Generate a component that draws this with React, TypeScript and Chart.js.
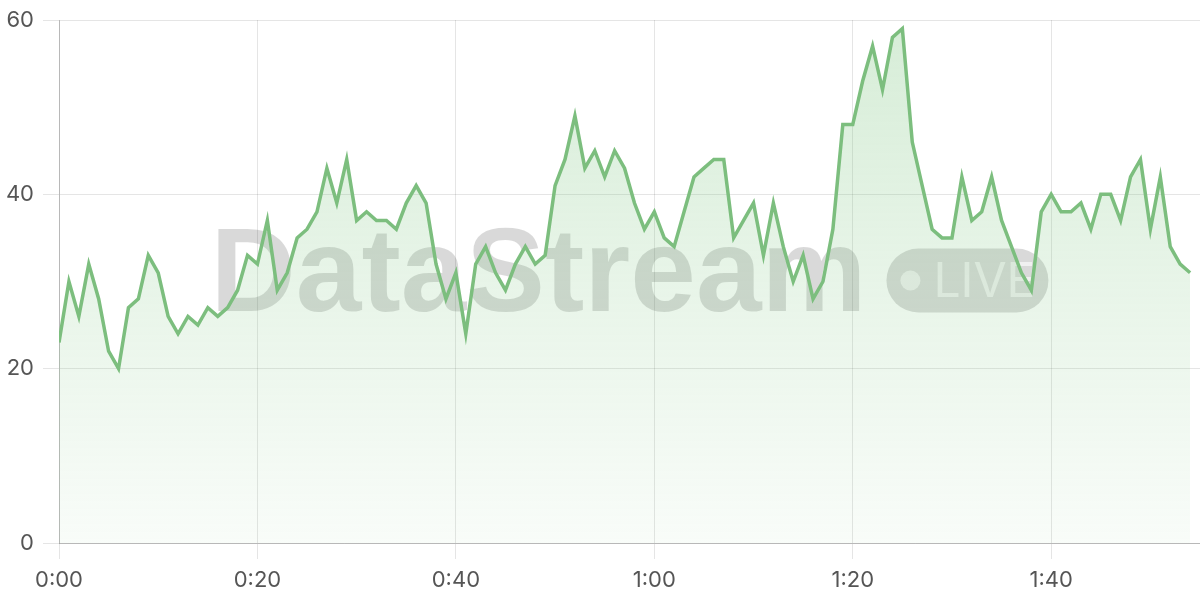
import React, { useEffect, useRef } from "react";
import { Chart, registerables } from "chart.js";

Chart.register(...registerables);

// Values sampled once per second (index = seconds since start)
const values: number[] = [
  23, 30, 26, 32, 28, 22, 20, 27, 28, 33,
  31, 26, 24, 26, 25, 27, 26, 27, 29, 33,
  32, 37, 29, 31, 35, 36, 38, 43, 39, 44,
  37, 38, 37, 37, 36, 39, 41, 39, 32, 28,
  31, 24, 32, 34, 31, 29, 32, 34, 32, 33,
  41, 44, 49, 43, 45, 42, 45, 43, 39, 36,
  38, 35, 34, 38, 42, 43, 44, 44, 35, 37,
  39, 33, 39, 34, 30, 33, 28, 30, 36, 48,
  48, 53, 57, 52, 58, 59, 46, 41, 36, 35,
  35, 42, 37, 38, 42, 37, 34, 31, 29, 38,
  40, 38, 38, 39, 36, 40, 40, 37, 42, 44,
  36, 42, 34, 32, 31,
];
const seconds: number[] = values.map((_, i) => i);
const xMax = 115;
const xStep = 20;
const yTicks: number[] = [0, 20, 40, 60];
const watermarkTitle = "DataStream";
const watermarkBadge = "LIVE";

const LINE = "rgb(124,190,126)";
const FONT = "Inter, 'Noto Sans', sans-serif";

const fmt = (v: number) => `${Math.floor(v / 60)}:${String(v % 60).padStart(2, "0")}`;

const watermarkPlugin = {
  id: "watermark",
  beforeDatasetsDraw(chart: any) {
    const { ctx, chartArea } = chart;
    const cx = (chartArea.left + chartArea.right) / 2;
    const cy = (chartArea.top + chartArea.bottom) / 2;
    ctx.save();
    ctx.font = `bold 118px 'Liberation Sans', Arial, sans-serif`;
    const tw = ctx.measureText(watermarkTitle).width;
    const pillW = 162;
    const pillH = 64;
    const gap = 20;
    const total = tw + gap + pillW;
    const x0 = cx - total / 2;
    const baseline = cy + 29;
    ctx.fillStyle = "rgba(0,0,0,0.15)";
    ctx.textBaseline = "alphabetic";
    ctx.textAlign = "left";
    ctx.fillText(watermarkTitle, x0, baseline);
    const px = x0 + tw + gap;
    const py = baseline + 2 - pillH;
    ctx.beginPath();
    ctx.roundRect(px, py, pillW, pillH, pillH / 2);
    ctx.fill();
    ctx.fillStyle = "rgba(255,255,255,0.6)";
    ctx.beginPath();
    ctx.arc(px + 24, py + pillH / 2, 10, 0, Math.PI * 2);
    ctx.fill();
    ctx.font = `48px ${FONT}`;
    ctx.textBaseline = "middle";
    ctx.fillText(watermarkBadge, px + 47, py + pillH / 2 + 2);
    ctx.restore();
  },
};

export default function App() {
  const ref = useRef<HTMLCanvasElement | null>(null);
  useEffect(() => {
    if (!ref.current) return;
    const chart = new Chart(ref.current, {
      type: "line",
      data: {
        labels: seconds,
        datasets: [
          {
            data: values,
            borderColor: LINE,
            borderWidth: 3.5,
            pointRadius: 0,
            tension: 0,
            fill: "origin",
            backgroundColor: (c: any) => {
              const area = c.chart.chartArea;
              if (!area) return "rgba(129,199,132,0.2)";
              const g = c.chart.ctx.createLinearGradient(0, area.top, 0, area.bottom);
              g.addColorStop(0, "rgba(129,199,132,0.32)");
              g.addColorStop(1, "rgba(129,199,132,0.05)");
              return g;
            },
          },
        ],
      },
      options: {
        animation: false,
        responsive: true,
        maintainAspectRatio: false,
        layout: { padding: { top: 20, left: 0, right: 0, bottom: 0 } },
        plugins: { legend: { display: false }, tooltip: { enabled: false } },
        scales: {
          x: {
            type: "linear",
            min: 0,
            max: xMax,
            afterFit: (s: any) => {
              s.height = 57;
              s.paddingLeft = 0;
              s.paddingRight = 0;
            },
            grid: { color: "rgba(0,0,0,0.1)", tickLength: 16 },
            border: { color: "rgba(0,0,0,0.2)" },
            ticks: {
              stepSize: xStep,
              includeBounds: false,
              padding: 8,
              color: "#555",
              font: { family: FONT, size: 22 },
              maxRotation: 0,
              callback: (v: any) => fmt(Number(v)),
            },
          },
          y: {
            min: 0,
            max: 60,
            afterFit: (s: any) => {
              s.width = 59;
              s.paddingTop = 0;
              s.paddingBottom = 0;
            },
            afterBuildTicks: (s: any) => {
              s.ticks = yTicks.map((v) => ({ value: v }));
            },
            grid: { color: "rgba(0,0,0,0.1)", tickLength: 16 },
            border: { color: "rgba(0,0,0,0.2)" },
            ticks: {
              padding: 9,
              color: "#555",
              font: { family: FONT, size: 22 },
            },
          },
        },
      },
      plugins: [watermarkPlugin],
    });
    return () => chart.destroy();
  }, []);
  return (
    <div style={{ position: "fixed", left: 0, top: 0, width: 1200, height: 600, background: "#fff" }}>
      <canvas ref={ref} />
    </div>
  );
}
